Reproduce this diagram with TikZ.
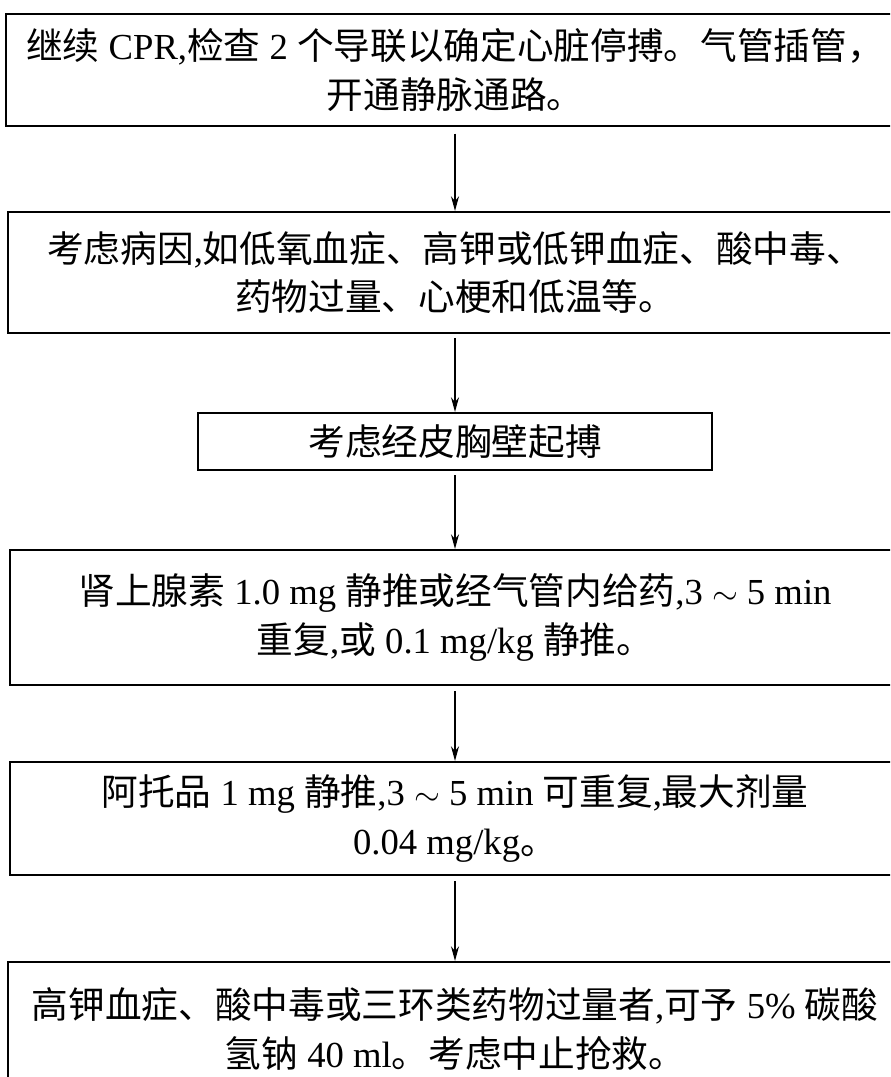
\documentclass[tikz,border=0pt]{standalone}
\usepackage{fontspec}
\setmainfont{Liberation Serif}
\newfontfamily\cjk{Noto Sans CJK SC}
\usetikzlibrary{arrows.meta}
\newcommand\z[1]{{\cjk #1}}
\tikzset{
  box/.style={draw=black, line width=1.6pt, inner sep=0pt, align=center,
    font=\fontsize{27.5}{36.5}\selectfont},
  flow/.style={draw=black, line width=0.9pt, -{Stealth[length=11pt,width=6pt]}}
}
\begin{document}
\begin{tikzpicture}[x=0.75pt,y=-0.75pt]
\useasboundingbox (0,0) rectangle (890,1077);
\fill[white] (0,0) rectangle (890,1077);
\clip (0,0) rectangle (890,1077);
\node[box, minimum width=898*0.75pt, minimum height=112*0.75pt] (b1) at (455,70) {\z{继续} CPR,\z{检查} 2 \z{个导联以确定心脏停搏。气管插管，}\\ \z{开通静脉通路。}};
\node[box, minimum width=894*0.75pt, minimum height=121*0.75pt] (b2) at (455,272.5) {\z{考虑病因},\z{如低氧血症、高钾或低钾血症、酸中毒、}\\ \z{药物过量、心梗和低温等。}};
\node[box, minimum width=514*0.75pt, minimum height=57*0.75pt] (b3) at (455,441.5) {\z{考虑经皮胸壁起搏}};
\node[box, minimum width=890*0.75pt, minimum height=135*0.75pt] (b4) at (455,617.5) {\z{肾上腺素} 1.0 mg \z{静推或经气管内给药},3 $\sim$ 5 min\\ \z{重复},\z{或} 0.1 mg/kg \z{静推。}};
\node[box, minimum width=890*0.75pt, minimum height=113*0.75pt] (b5) at (455,818.5) {\z{阿托品} 1 mg \z{静推},3 $\sim$ 5 min \z{可重复},\z{最大剂量}\\ 0.04 mg/kg\z{。}};
\node[box, minimum width=894*0.75pt, minimum height=134*0.75pt] (b6) at (455,1029) {\z{高钾血症、酸中毒或三环类药物过量者},\z{可予} 5\% \z{碳酸}\\ \z{氢钠} 40 ml\z{。考虑中止抢救。}};
\draw[flow] ([yshift=-5pt]b1.south) -- (b2.north);
\draw[flow] ([yshift=-3pt]b2.south) -- (b3.north);
\draw[flow] ([yshift=-3pt]b3.south) -- (b4.north);
\draw[flow] ([yshift=-4pt]b4.south) -- (b5.north);
\draw[flow] ([yshift=-4pt]b5.south) -- (b6.north);
\end{tikzpicture}
\end{document}
